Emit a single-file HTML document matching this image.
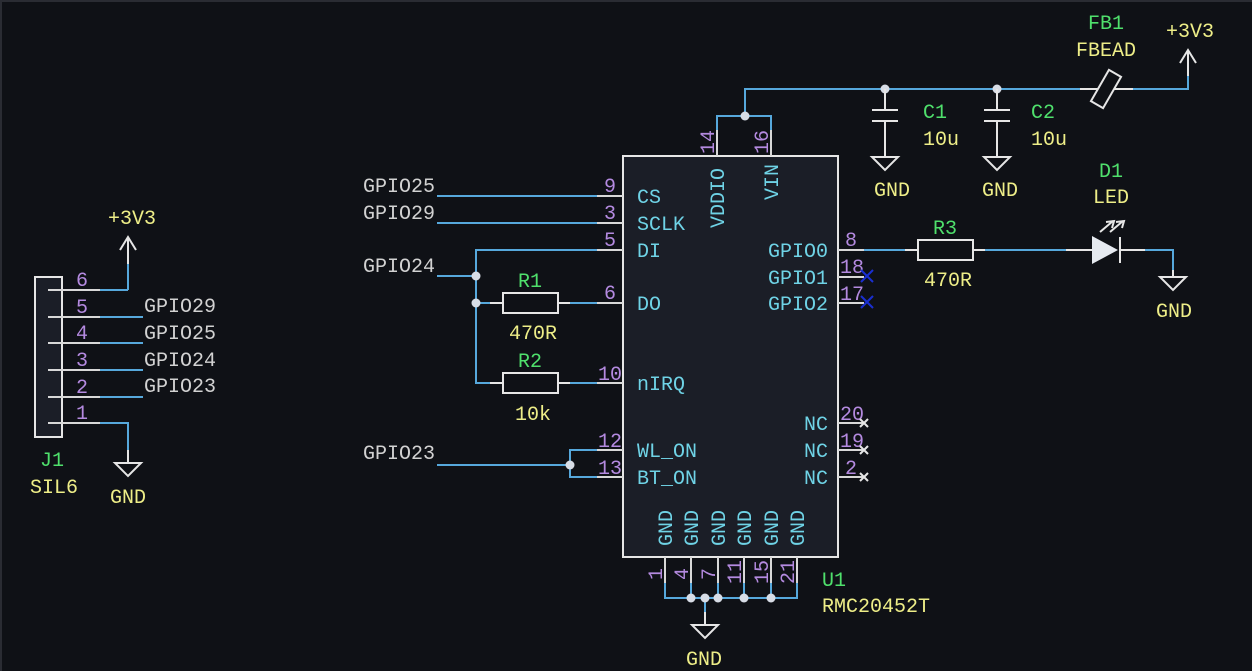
<!DOCTYPE html>
<html><head><meta charset="utf-8"><style>
html,body{margin:0;padding:0;background:#0f1116;}
svg{display:block}
text{font-family:"Liberation Mono","DejaVu Sans Mono",monospace;font-size:20px;}
.w{stroke:#56a8dc;stroke-width:2;fill:none}
.p{stroke:#d8d8d8;stroke-width:2;fill:none}
.s{stroke:#e6e6e6;stroke-width:2;fill:none}
.pn{fill:#6fd3e6}
.num{fill:#b48ae0}
.ref{fill:#4fe06c}
.val{fill:#eeee88}
.net{fill:#d2d2d2}
.j{fill:#d8dde6}
</style></head><body>
<svg width="1252" height="671" viewBox="0 0 1252 671" xmlns="http://www.w3.org/2000/svg">
<rect width="1252" height="671" fill="#0f1116"/>
<rect x="0" y="0" width="1252" height="2" fill="#2a2c33"/>
<rect x="0" y="0" width="2" height="671" fill="#2a2c33"/>

<rect x="623" y="156" width="215" height="401" fill="#1b1e27" stroke="#e6e6e6" stroke-width="2"/>
<g class="p">
<line x1="597" y1="196" x2="623" y2="196"/><line x1="597" y1="223" x2="623" y2="223"/>
<line x1="597" y1="250" x2="623" y2="250"/><line x1="597" y1="303" x2="623" y2="303"/>
<line x1="597" y1="383" x2="623" y2="383"/><line x1="597" y1="450" x2="623" y2="450"/>
<line x1="597" y1="477" x2="623" y2="477"/>
<line x1="838" y1="250" x2="864" y2="250"/><line x1="838" y1="277" x2="864" y2="277"/>
<line x1="838" y1="303" x2="864" y2="303"/><line x1="838" y1="423" x2="864" y2="423"/>
<line x1="838" y1="450" x2="864" y2="450"/><line x1="838" y1="477" x2="864" y2="477"/>
<line x1="717" y1="130" x2="717" y2="156"/><line x1="771" y1="130" x2="771" y2="156"/>
<line x1="665" y1="557" x2="665" y2="583"/><line x1="691" y1="557" x2="691" y2="583"/>
<line x1="718" y1="557" x2="718" y2="583"/><line x1="744" y1="557" x2="744" y2="583"/>
<line x1="771" y1="557" x2="771" y2="583"/><line x1="797" y1="557" x2="797" y2="583"/>
</g>
<g class="pn">
<text x="637" y="203">CS</text><text x="637" y="230">SCLK</text><text x="637" y="257">DI</text>
<text x="637" y="310">DO</text><text x="637" y="390">nIRQ</text>
<text x="637" y="457">WL_ON</text><text x="637" y="484">BT_ON</text>
<text x="828" y="257" text-anchor="end">GPIO0</text><text x="828" y="284" text-anchor="end">GPIO1</text>
<text x="828" y="310" text-anchor="end">GPIO2</text>
<text x="828" y="430" text-anchor="end">NC</text><text x="828" y="457" text-anchor="end">NC</text>
<text x="828" y="484" text-anchor="end">NC</text>
<text transform="translate(724,228) rotate(-90)">VDDIO</text>
<text transform="translate(778,200) rotate(-90)">VIN</text>
<text transform="translate(672,546) rotate(-90)">GND</text>
<text transform="translate(698,546) rotate(-90)">GND</text>
<text transform="translate(725,546) rotate(-90)">GND</text>
<text transform="translate(751,546) rotate(-90)">GND</text>
<text transform="translate(778,546) rotate(-90)">GND</text>
<text transform="translate(804,546) rotate(-90)">GND</text>
</g>
<g class="num">
<text x="616" y="192" text-anchor="end">9</text><text x="616" y="219" text-anchor="end">3</text>
<text x="616" y="246" text-anchor="end">5</text><text x="616" y="299" text-anchor="end">6</text>
<text x="622" y="380" text-anchor="end">10</text><text x="622" y="447" text-anchor="end">12</text>
<text x="622" y="474" text-anchor="end">13</text>
<text x="845" y="246">8</text><text x="840" y="273">18</text><text x="840" y="300">17</text>
<text x="840" y="420">20</text><text x="840" y="447">19</text><text x="845" y="474">2</text>
<text transform="translate(714,154) rotate(-90)">14</text>
<text transform="translate(768,154) rotate(-90)">16</text>
<text transform="translate(662,580) rotate(-90)">1</text>
<text transform="translate(688,580) rotate(-90)">4</text>
<text transform="translate(715,580) rotate(-90)">7</text>
<text transform="translate(741,584) rotate(-90)">11</text>
<text transform="translate(768,584) rotate(-90)">15</text>
<text transform="translate(794,584) rotate(-90)">21</text>
</g>
<text class="ref" x="822" y="586">U1</text><text class="val" x="822" y="612">RMC20452T</text>

<g stroke="#e6e6e6" stroke-width="2">
<line x1="860" y1="419" x2="868" y2="427"/><line x1="868" y1="419" x2="860" y2="427"/>
<line x1="860" y1="446" x2="868" y2="454"/><line x1="868" y1="446" x2="860" y2="454"/>
<line x1="860" y1="473" x2="868" y2="481"/><line x1="868" y1="473" x2="860" y2="481"/>
</g>
<g stroke="#1a2fd0" stroke-width="2">
<line x1="861" y1="270" x2="873" y2="282"/><line x1="873" y1="270" x2="861" y2="282"/>
<line x1="861" y1="296" x2="873" y2="308"/><line x1="873" y1="296" x2="861" y2="308"/>
</g>

<g class="w">
<polyline points="717,130 717,116 771,116 771,130"/>
<polyline points="745,116 745,89 1080,89"/>
<line x1="437" y1="196" x2="597" y2="196"/>
<line x1="437" y1="223" x2="597" y2="223"/>
<polyline points="597,250 476,250 476,383 490,383"/>
<line x1="437" y1="276" x2="476" y2="276"/>
<line x1="476" y1="303" x2="490" y2="303"/>
<line x1="570" y1="303" x2="597" y2="303"/>
<line x1="570" y1="383" x2="597" y2="383"/>
<line x1="437" y1="465" x2="570" y2="465"/>
<polyline points="597,450 570,450 570,477 597,477"/>
<line x1="864" y1="250" x2="905" y2="250"/>
<line x1="985" y1="250" x2="1066" y2="250"/>
<polyline points="1145,250 1173,250 1173,270"/>
<polyline points="1133,89 1188,89 1188,76"/>
<polyline points="665,583 665,598 797,598 797,583"/>
<line x1="691" y1="583" x2="691" y2="598"/><line x1="718" y1="583" x2="718" y2="598"/>
<line x1="744" y1="583" x2="744" y2="598"/><line x1="771" y1="583" x2="771" y2="598"/>
<line x1="705" y1="598" x2="705" y2="612"/>
<line x1="100" y1="290" x2="128" y2="290"/><line x1="128" y1="290" x2="128" y2="264"/>
<line x1="100" y1="317" x2="143" y2="317"/><line x1="100" y1="343" x2="143" y2="343"/>
<line x1="100" y1="370" x2="143" y2="370"/><line x1="100" y1="397" x2="143" y2="397"/>
<polyline points="100,423 128,423 128,450"/>
</g>
<g class="j">
<circle cx="745" cy="116" r="4.5"/><circle cx="885" cy="89" r="4.5"/><circle cx="997" cy="89" r="4.5"/>
<circle cx="476" cy="276" r="4.5"/><circle cx="476" cy="303" r="4.5"/><circle cx="570" cy="465" r="4.5"/>
<circle cx="691" cy="598" r="4.5"/><circle cx="705" cy="598" r="4.5"/><circle cx="718" cy="598" r="4.5"/>
<circle cx="744" cy="598" r="4.5"/><circle cx="771" cy="598" r="4.5"/>
</g>

<g class="net">
<text x="363" y="192">GPIO25</text><text x="363" y="219">GPIO29</text>
<text x="363" y="272">GPIO24</text><text x="363" y="459">GPIO23</text>
<text x="144" y="312">GPIO29</text><text x="144" y="339">GPIO25</text>
<text x="144" y="366">GPIO24</text><text x="144" y="392">GPIO23</text>
</g>

<g class="s">
<line x1="490" y1="303" x2="503" y2="303"/><line x1="558" y1="303" x2="570" y2="303"/>
<rect x="503" y="293" width="55" height="20"/>
<line x1="490" y1="383" x2="503" y2="383"/><line x1="558" y1="383" x2="570" y2="383"/>
<rect x="503" y="373" width="55" height="20"/>
<line x1="905" y1="250" x2="918" y2="250"/><line x1="973" y1="250" x2="985" y2="250"/>
<rect x="918" y="240" width="55" height="20"/>
</g>
<text class="ref" x="518" y="287">R1</text><text class="val" x="509" y="339">470R</text>
<text class="ref" x="518" y="367">R2</text><text class="val" x="515" y="420">10k</text>
<text class="ref" x="933" y="234">R3</text><text class="val" x="924" y="286">470R</text>

<g class="s">
<line x1="1066" y1="250" x2="1092" y2="250"/><line x1="1120" y1="250" x2="1145" y2="250"/>
<line x1="1120" y1="237" x2="1120" y2="263"/>
<line x1="1100" y1="232" x2="1113" y2="221"/><polyline points="1106,222 1114,221 1112,228"/>
<line x1="1110" y1="232" x2="1123" y2="221"/><polyline points="1116,222 1124,221 1122,228"/>
</g>
<polygon points="1092,236 1092,264 1118,250" fill="#e6eaf0"/>
<text class="ref" x="1099" y="177">D1</text>
<text class="val" x="1093" y="203">LED</text>

<g class="s">
<line x1="1080" y1="89" x2="1133" y2="89"/>
<rect x="-7" y="-18" width="14" height="36" transform="translate(1106,89) rotate(30)" fill="#0f1116"/>
</g>
<text class="ref" x="1088" y="29">FB1</text><text class="val" x="1076" y="56">FBEAD</text>

<g class="s">
<line x1="885" y1="89" x2="885" y2="110"/><line x1="872" y1="110" x2="898" y2="110"/>
<line x1="872" y1="121" x2="898" y2="121"/><line x1="885" y1="121" x2="885" y2="157"/>
<line x1="997" y1="89" x2="997" y2="110"/><line x1="984" y1="110" x2="1010" y2="110"/>
<line x1="984" y1="121" x2="1010" y2="121"/><line x1="997" y1="121" x2="997" y2="157"/>
</g>
<text class="ref" x="923" y="118">C1</text><text class="val" x="923" y="145">10u</text>
<text class="ref" x="1031" y="118">C2</text><text class="val" x="1031" y="145">10u</text>

<g class="s">
<polygon points="872,157 898,157 885,170"/>
<polygon points="984,157 1010,157 997,170"/>
<line x1="1173" y1="270" x2="1173" y2="277"/><polygon points="1160,277 1186,277 1173,290"/>
<polygon points="692,625 718,625 705,638"/><line x1="705" y1="612" x2="705" y2="625"/>
<line x1="128" y1="450" x2="128" y2="463"/><polygon points="115,463 141,463 128,476"/>
<line x1="1188" y1="76" x2="1188" y2="50"/><polyline points="1180,63 1188,50 1196,63"/>
<line x1="128" y1="264" x2="128" y2="237"/><polyline points="120,250 128,237 136,250"/>
</g>
<g class="val">
<text x="874" y="196">GND</text><text x="982" y="196">GND</text>
<text x="1156" y="317">GND</text><text x="686" y="665">GND</text><text x="110" y="503">GND</text>
<text x="1166" y="37">+3V3</text><text x="108" y="224">+3V3</text>
</g>

<rect x="35" y="277" width="27" height="160" fill="#1b1e27" stroke="#e6e6e6" stroke-width="2"/>
<g class="p">
<line x1="48" y1="290" x2="100" y2="290"/><line x1="48" y1="317" x2="100" y2="317"/>
<line x1="48" y1="343" x2="100" y2="343"/><line x1="48" y1="370" x2="100" y2="370"/>
<line x1="48" y1="397" x2="100" y2="397"/><line x1="48" y1="423" x2="100" y2="423"/>
</g>
<g class="num">
<text x="76" y="286">6</text><text x="76" y="313">5</text><text x="76" y="339">4</text>
<text x="76" y="366">3</text><text x="76" y="393">2</text><text x="76" y="419">1</text>
</g>
<text class="ref" x="40" y="466">J1</text><text class="val" x="30" y="493">SIL6</text>
</svg>
</body></html>
